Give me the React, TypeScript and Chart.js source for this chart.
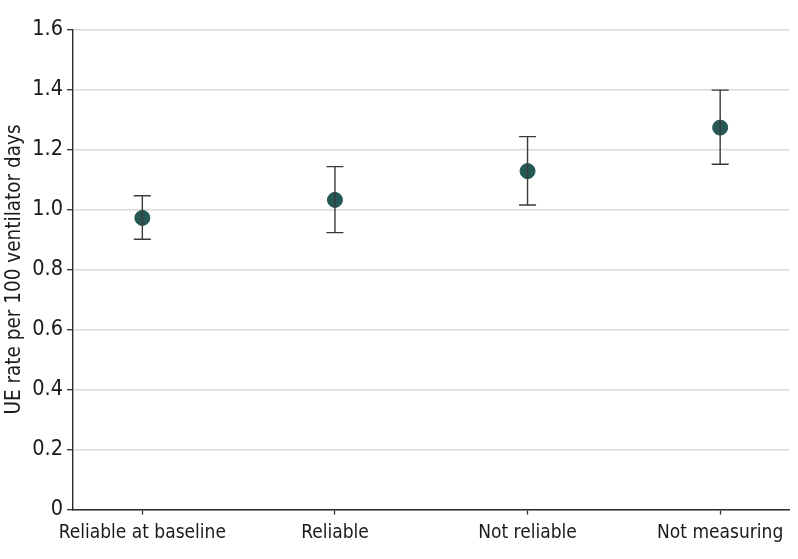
import React, { useEffect, useRef } from "react";
import { Chart, registerables } from "chart.js";

Chart.register(...registerables);

const categories = ["Reliable at baseline", "Reliable", "Not reliable", "Not measuring"];
const rates = [0.972, 1.032, 1.128, 1.273];
const lowerCI = [0.901, 0.923, 1.015, 1.151];
const upperCI = [1.046, 1.143, 1.243, 1.398];
const yTicks = [0, 0.2, 0.4, 0.6, 0.8, 1.0, 1.2, 1.4, 1.6];

const FONT = "'DejaVu Sans Condensed', 'Liberation Sans Narrow', sans-serif";
const INK = "#2b2b2b";

const errorBarPlugin = {
  id: "errorBars",
  afterDatasetsDraw(chart: any) {
    const { ctx, scales } = chart;
    const xs = scales.x;
    const ys = scales.y;
    ctx.save();
    ctx.strokeStyle = "#3a3a3a";
    ctx.lineWidth = 1.4;
    categories.forEach((_, i) => {
      const x = xs.getPixelForValue(i + 1);
      const yTop = ys.getPixelForValue(upperCI[i]);
      const yBot = ys.getPixelForValue(lowerCI[i]);
      const cap = 8.5;
      ctx.beginPath();
      ctx.moveTo(x, yTop);
      ctx.lineTo(x, yBot);
      ctx.moveTo(x - cap, yTop);
      ctx.lineTo(x + cap, yTop);
      ctx.moveTo(x - cap, yBot);
      ctx.lineTo(x + cap, yBot);
      ctx.stroke();
    });
    ctx.restore();
  },
};

export default function App() {
  const ref = useRef<HTMLCanvasElement | null>(null);

  useEffect(() => {
    document.body.style.margin = "0";
    const canvas = ref.current;
    if (!canvas) return;
    const chart = new Chart(canvas, {
      type: "scatter",
      data: {
        datasets: [
          {
            data: rates.map((v, i) => ({ x: i + 1, y: v })),
            backgroundColor: "#255955",
            borderColor: "#255955",
            borderWidth: 1,
            pointRadius: 7.5,
            pointHoverRadius: 7.5,
          },
        ],
      },
      options: {
        animation: false,
        responsive: false,
        devicePixelRatio: 1,
        layout: { padding: { top: 29.5, right: 5, left: 0, bottom: 0 } },
        plugins: { legend: { display: false }, tooltip: { enabled: false } },
        scales: {
          x: {
            type: "linear",
            min: 0.64,
            max: 4.36,
            afterBuildTicks: (scale: any) => {
              scale.ticks = categories.map((_, i) => ({ value: i + 1 }));
            },
            afterFit: (scale: any) => {
              scale.height = 49.5;
            },
            ticks: {
              autoSkip: false,
              maxRotation: 0,
              color: "#1a1a1a",
              padding: 7,
              font: { family: FONT, size: 19 },
              callback: (v: any) => categories[Math.round(Number(v)) - 1] ?? "",
            },
            grid: {
              drawOnChartArea: false,
              drawTicks: true,
              tickLength: 5,
              tickColor: INK,
              tickWidth: 1.3,
            },
            border: { color: INK, width: 1.4 },
          },
          y: {
            type: "linear",
            min: 0,
            max: 1.6,
            afterBuildTicks: (scale: any) => {
              scale.ticks = yTicks.map((v) => ({ value: v }));
            },
            afterFit: (scale: any) => {
              scale.width = 73;
            },
            ticks: {
              color: "#1a1a1a",
              padding: 4,
              font: { family: FONT, size: 21.5 },
              callback: (v: any) => (Number(v) === 0 ? "0" : Number(v).toFixed(1)),
            },
            grid: {
              color: "#d9d9d9",
              lineWidth: 1.5,
              tickLength: 6,
              tickColor: INK,
              tickWidth: 1.3,
            },
            border: { color: INK, width: 1.4 },
            title: {
              display: true,
              text: "UE rate per 100 ventilator days",
              color: "#1a1a1a",
              font: { family: FONT, size: 20.5 },
              padding: { top: 2, bottom: 0 },
            },
          },
        },
      },
      plugins: [errorBarPlugin],
    });
    return () => chart.destroy();
  }, []);

  return <canvas ref={ref} width={798} height={559} style={{ display: "block" }} />;
}
